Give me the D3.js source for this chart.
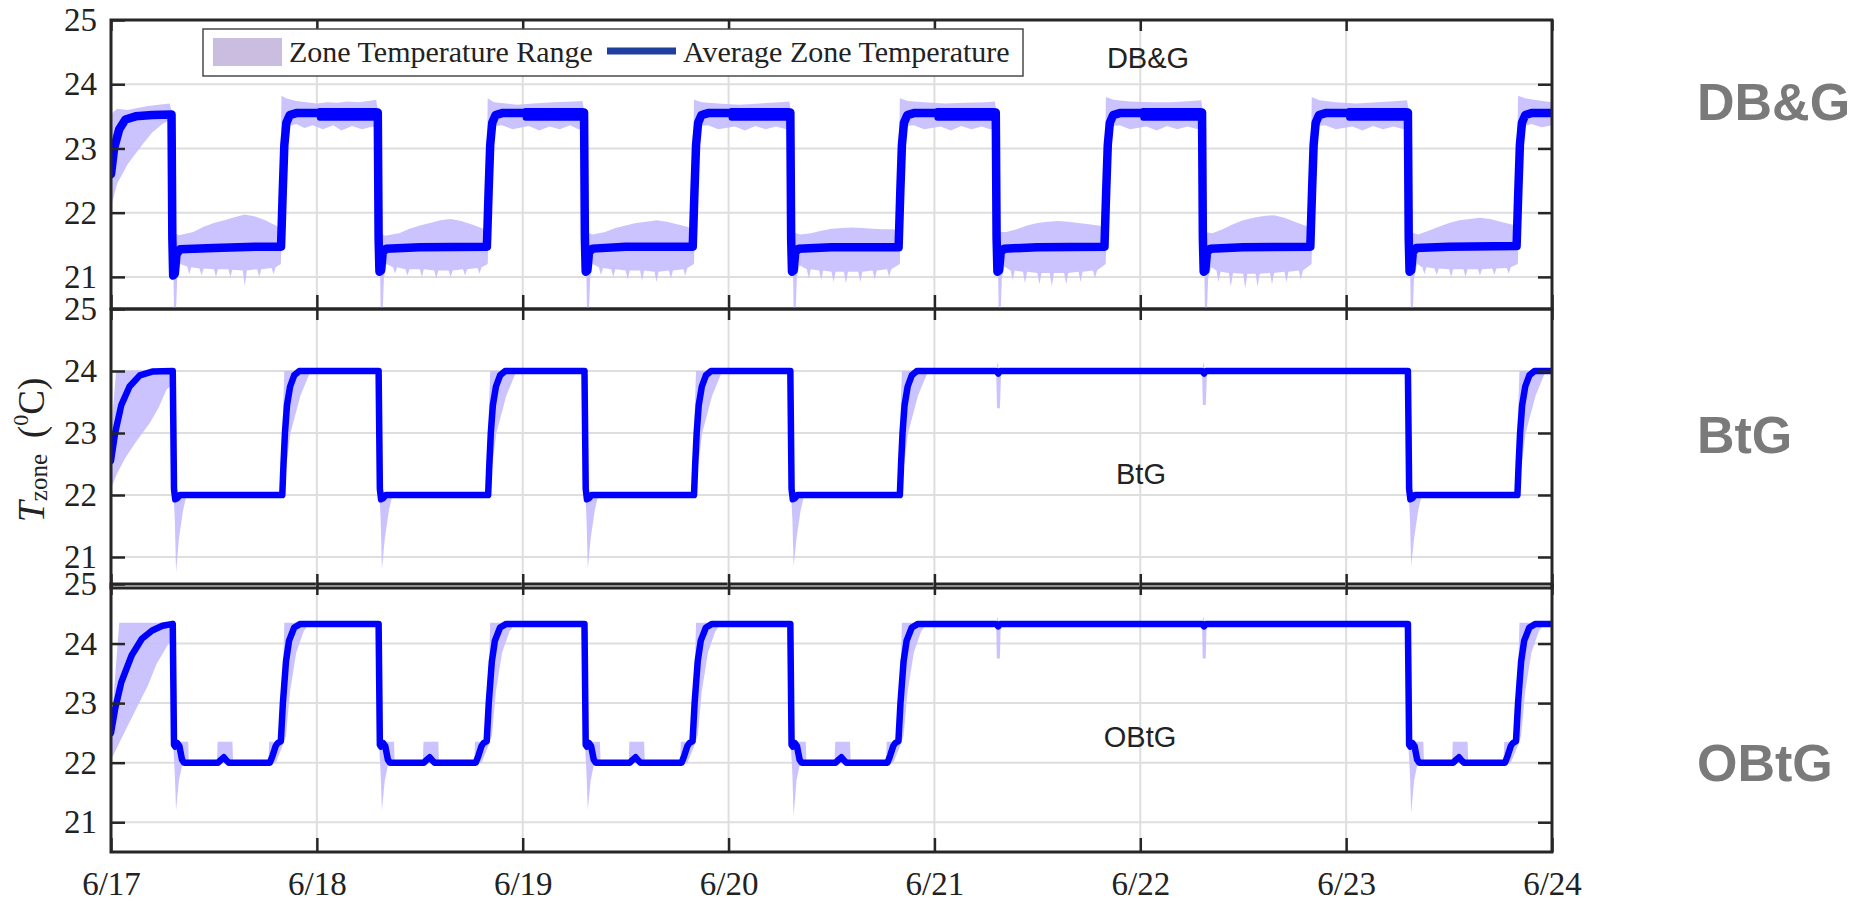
<!DOCTYPE html>
<html>
<head>
<meta charset="utf-8">
<script src="https://cdn.jsdelivr.net/npm/d3@7"></script>
<style>
  body { margin: 0; background: #fff; }
</style>
</head>
<body>
<svg id="chart" width="1865" height="902"></svg>
<script>
// time is in days after 6/17 00:00
var dayTicks = [0, 1, 2, 3, 4, 5, 6, 7];
var dayLabels = ["6/17", "6/18", "6/19", "6/20", "6/21", "6/22", "6/23", "6/24"];
var yTicks = [21, 22, 23, 24, 25];
var yDomain = [20.5, 25];
var panelNames = ["DB&G", "BtG", "OBtG"];
var legendLabels = ["Zone Temperature Range", "Average Zone Temperature"];

// ---- DB&G ----
var dbgAvg = [
  [0,22.6],[0.015,23.0],[0.04,23.3],[0.07,23.45],[0.12,23.5],[0.2,23.52],[0.294,23.53],
  [0.298,21.6],[0.302,21.02],[0.31,21.05],[0.318,21.35],[0.335,21.43],[0.5,21.45],[0.7,21.47],[0.826,21.47],
  [0.834,22.3],[0.842,23.05],[0.852,23.4],[0.868,23.52],[0.9,23.55],[1.0,23.55],
  [1.296,23.56],[1.3,21.6],[1.304,21.08],[1.312,21.1],[1.32,21.38],[1.336,21.44],[1.5,21.46],[1.826,21.47],
  [1.834,22.3],[1.842,23.05],[1.852,23.4],[1.868,23.52],[1.9,23.55],[2.0,23.55],
  [2.298,23.56],[2.302,21.6],[2.306,21.08],[2.314,21.1],[2.322,21.38],[2.338,21.44],[2.5,21.47],[2.826,21.47],
  [2.834,22.3],[2.842,23.05],[2.852,23.4],[2.868,23.52],[2.9,23.55],[3.0,23.55],
  [3.3,23.56],[3.304,21.6],[3.308,21.08],[3.316,21.1],[3.324,21.38],[3.34,21.44],[3.5,21.46],[3.826,21.46],
  [3.834,22.3],[3.842,23.05],[3.852,23.4],[3.868,23.52],[3.9,23.55],[4.0,23.55],
  [4.298,23.56],[4.302,21.6],[4.306,21.08],[4.314,21.1],[4.322,21.38],[4.338,21.44],[4.5,21.46],[4.826,21.47],
  [4.834,22.3],[4.842,23.05],[4.852,23.4],[4.868,23.52],[4.9,23.55],[5.0,23.55],
  [5.3,23.56],[5.304,21.6],[5.308,21.08],[5.316,21.1],[5.324,21.38],[5.34,21.44],[5.5,21.46],[5.826,21.47],
  [5.834,22.3],[5.842,23.05],[5.852,23.4],[5.868,23.52],[5.9,23.55],[6.0,23.55],
  [6.3,23.56],[6.304,21.6],[6.308,21.08],[6.316,21.1],[6.324,21.38],[6.34,21.45],[6.5,21.47],[6.828,21.48],
  [6.836,22.3],[6.844,23.05],[6.854,23.4],[6.87,23.52],[6.9,23.55],[7.0,23.55]
];
// thicker (oscillating) average during the night, [start, end, low, high]
var dbgNight = [
  [1.0,1.298,23.43,23.63],[2.0,2.3,23.43,23.63],[3.0,3.302,23.43,23.63],
  [4.0,4.3,23.43,23.63],[5.0,5.302,23.43,23.63],[6.0,6.302,23.43,23.63]
];
var dbgHi = [
  [0,22.9],[0.006,23.55],[0.03,23.62],[0.08,23.6],[0.13,23.63],[0.18,23.66],[0.23,23.68],[0.285,23.7],[0.293,23.6],
  [0.299,21.7],[0.33,21.65],[0.4,21.7],[0.45,21.78],[0.5,21.84],[0.55,21.88],[0.6,21.93],[0.65,21.97],[0.7,21.94],[0.75,21.88],[0.8,21.8],[0.818,21.76],
  [0.823,22.6],[0.828,23.82],[0.85,23.78],[0.9,23.74],[0.95,23.72],
  [1.0,23.7],[1.05,23.72],[1.1,23.71],[1.15,23.73],[1.2,23.72],[1.25,23.74],[1.288,23.76],[1.296,23.6],
  [1.302,21.7],[1.33,21.64],[1.4,21.68],[1.45,21.75],[1.5,21.8],[1.55,21.84],[1.6,21.88],[1.65,21.9],[1.7,21.87],[1.75,21.82],[1.8,21.76],[1.82,21.72],
  [1.825,22.6],[1.83,23.78],[1.86,23.72],[1.92,23.7],[1.97,23.68],
  [2.05,23.7],[2.15,23.72],[2.25,23.73],[2.29,23.74],[2.298,23.6],
  [2.304,21.7],[2.34,21.66],[2.4,21.7],[2.45,21.76],[2.5,21.8],[2.55,21.84],[2.6,21.86],[2.65,21.88],[2.7,21.86],[2.75,21.82],[2.8,21.78],[2.822,21.74],
  [2.827,22.6],[2.832,23.76],[2.87,23.72],[2.95,23.7],
  [3.05,23.68],[3.15,23.7],[3.25,23.72],[3.295,23.73],[3.302,23.6],
  [3.308,21.7],[3.35,21.66],[3.4,21.68],[3.45,21.72],[3.5,21.75],[3.55,21.76],[3.6,21.77],[3.65,21.76],[3.7,21.75],[3.75,21.74],[3.8,21.74],[3.822,21.72],
  [3.827,22.6],[3.832,23.78],[3.87,23.74],[3.95,23.72],
  [4.05,23.7],[4.15,23.71],[4.25,23.72],[4.293,23.73],[4.3,23.6],
  [4.306,21.7],[4.35,21.7],[4.4,21.74],[4.45,21.8],[4.5,21.84],[4.55,21.86],[4.6,21.87],[4.65,21.86],[4.7,21.84],[4.75,21.82],[4.8,21.8],[4.823,21.76],
  [4.828,22.6],[4.833,23.8],[4.87,23.76],[4.95,23.73],
  [5.05,23.72],[5.15,23.72],[5.25,23.74],[5.296,23.75],[5.303,23.6],
  [5.309,21.7],[5.35,21.68],[5.4,21.74],[5.45,21.82],[5.5,21.88],[5.55,21.92],[5.6,21.95],[5.65,21.96],[5.7,21.92],[5.75,21.86],[5.8,21.8],[5.823,21.77],
  [5.828,22.6],[5.833,23.8],[5.87,23.75],[5.95,23.72],
  [6.05,23.7],[6.15,23.72],[6.25,23.74],[6.296,23.75],[6.303,23.6],
  [6.309,21.7],[6.35,21.66],[6.4,21.72],[6.45,21.78],[6.5,21.84],[6.55,21.88],[6.6,21.9],[6.65,21.92],[6.7,21.9],[6.75,21.86],[6.8,21.82],[6.825,21.8],
  [6.83,22.6],[6.835,23.82],[6.87,23.78],[6.93,23.75],[7.0,23.72]
];
var dbgLo = [
  [0,22.1],[0.03,22.45],[0.08,22.75],[0.15,23.05],[0.2,23.25],[0.25,23.38],[0.29,23.45],[0.296,23.2],
  [0.302,21.3],[0.306,20.5],[0.316,20.5],[0.322,21.0],[0.335,21.2],[0.37,21.16],[0.38,21.04],[0.39,21.15],[0.43,21.13],[0.44,21.02],[0.45,21.13],
  [0.5,21.12],[0.51,21.0],[0.52,21.12],[0.57,21.12],[0.58,21.0],[0.59,21.11],[0.64,21.1],[0.65,20.86],[0.66,21.1],[0.71,21.12],[0.72,21.0],[0.73,21.12],
  [0.78,21.14],[0.79,21.04],[0.8,21.15],[0.825,21.2],
  [0.838,22.3],[0.848,23.15],[0.862,23.35],[0.9,23.38],[0.94,23.32],[0.98,23.36],
  [1.03,23.3],[1.08,23.36],[1.12,23.28],[1.17,23.35],[1.22,23.3],[1.27,23.34],[1.296,23.3],[1.302,23.1],
  [1.306,21.3],[1.31,20.5],[1.32,20.5],[1.326,21.0],[1.338,21.2],[1.37,21.15],[1.38,21.05],[1.39,21.15],[1.43,21.12],[1.44,21.02],[1.45,21.12],
  [1.5,21.12],[1.51,21.0],[1.52,21.12],[1.57,21.1],[1.58,20.98],[1.59,21.1],[1.64,21.1],[1.65,21.0],[1.66,21.1],[1.71,21.12],[1.72,21.02],[1.73,21.12],
  [1.78,21.14],[1.79,21.05],[1.8,21.15],[1.83,21.2],
  [1.838,22.3],[1.848,23.15],[1.862,23.35],[1.9,23.36],[1.95,23.3],
  [2.03,23.35],[2.08,23.28],[2.13,23.34],[2.18,23.3],[2.23,23.36],[2.27,23.3],[2.298,23.3],[2.304,23.1],
  [2.308,21.3],[2.312,20.5],[2.322,20.5],[2.328,21.0],[2.34,21.2],[2.37,21.15],[2.38,21.03],[2.39,21.14],[2.43,21.12],[2.44,21.0],[2.45,21.12],
  [2.5,21.1],[2.51,20.96],[2.52,21.1],[2.57,21.1],[2.58,20.94],[2.59,21.1],[2.64,21.08],[2.65,20.92],[2.66,21.08],[2.71,21.1],[2.72,20.98],[2.73,21.1],
  [2.78,21.12],[2.79,21.02],[2.8,21.14],[2.832,21.2],
  [2.84,22.3],[2.85,23.15],[2.864,23.35],[2.9,23.36],[2.95,23.3],
  [3.03,23.34],[3.08,23.28],[3.13,23.35],[3.18,23.3],[3.23,23.34],[3.28,23.3],[3.302,23.3],[3.308,23.1],
  [3.312,21.3],[3.316,20.5],[3.326,20.5],[3.332,21.0],[3.345,21.18],[3.38,21.12],[3.39,20.98],[3.4,21.12],[3.44,21.1],[3.45,20.95],[3.46,21.1],
  [3.5,21.08],[3.51,20.92],[3.52,21.08],[3.56,21.08],[3.57,20.9],[3.58,21.08],[3.63,21.08],[3.64,20.92],[3.65,21.08],[3.7,21.1],[3.71,20.96],[3.72,21.1],
  [3.77,21.12],[3.78,21.0],[3.79,21.12],[3.832,21.2],
  [3.84,22.3],[3.85,23.15],[3.864,23.35],[3.9,23.36],[3.95,23.3],
  [4.03,23.34],[4.08,23.28],[4.13,23.35],[4.18,23.3],[4.23,23.34],[4.27,23.3],[4.298,23.3],[4.304,23.1],
  [4.308,21.3],[4.312,20.5],[4.322,20.5],[4.328,21.0],[4.34,21.16],[4.37,21.1],[4.38,20.95],[4.39,21.1],[4.43,21.08],[4.44,20.9],[4.45,21.08],
  [4.5,21.06],[4.51,20.88],[4.52,21.06],[4.56,21.06],[4.57,20.85],[4.58,21.06],[4.63,21.06],[4.64,20.88],[4.65,21.06],[4.7,21.08],[4.71,20.92],[4.72,21.08],
  [4.77,21.1],[4.78,20.98],[4.79,21.1],[4.832,21.2],
  [4.84,22.3],[4.85,23.15],[4.864,23.35],[4.9,23.36],[4.95,23.3],
  [5.03,23.34],[5.08,23.28],[5.13,23.35],[5.18,23.3],[5.23,23.34],[5.28,23.3],[5.3,23.3],[5.306,23.1],
  [5.31,21.3],[5.314,20.5],[5.324,20.5],[5.33,21.0],[5.345,21.15],[5.37,21.1],[5.38,20.92],[5.39,21.08],[5.43,21.06],[5.44,20.85],[5.45,21.06],
  [5.5,21.05],[5.51,20.82],[5.52,21.05],[5.56,21.05],[5.57,20.85],[5.58,21.05],[5.63,21.06],[5.64,20.88],[5.65,21.06],[5.7,21.08],[5.71,20.92],[5.72,21.08],
  [5.77,21.1],[5.78,20.96],[5.79,21.1],[5.832,21.2],
  [5.84,22.3],[5.85,23.15],[5.864,23.35],[5.9,23.36],[5.95,23.3],
  [6.03,23.34],[6.08,23.28],[6.13,23.35],[6.18,23.3],[6.23,23.34],[6.28,23.3],[6.3,23.3],[6.306,23.1],
  [6.31,21.3],[6.314,20.5],[6.324,20.5],[6.33,21.0],[6.345,21.2],[6.37,21.15],[6.38,21.04],[6.39,21.15],[6.43,21.13],[6.44,21.03],[6.45,21.13],
  [6.5,21.12],[6.51,21.0],[6.52,21.12],[6.57,21.12],[6.58,21.0],[6.59,21.12],[6.64,21.12],[6.65,21.02],[6.66,21.12],[6.71,21.13],[6.72,21.03],[6.73,21.13],
  [6.78,21.14],[6.79,21.05],[6.8,21.15],[6.834,21.2],
  [6.842,22.3],[6.852,23.15],[6.866,23.35],[6.9,23.38],[6.95,23.33],[7.0,23.36]
];

// ---- BtG ----
var btgAvg = [
  [0,22.55],[0.02,23.0],[0.05,23.45],[0.09,23.75],[0.14,23.93],[0.2,23.99],[0.3,24.0],
  [0.306,22.1],[0.312,21.93],[0.322,21.95],[0.335,22.0],[0.832,22.0],[0.838,22.5],[0.845,23.0],[0.855,23.45],[0.87,23.75],[0.89,23.93],[0.915,24.0],
  [1.3,24.0],[1.306,22.1],[1.312,21.93],[1.322,21.95],[1.335,22.0],[1.832,22.0],[1.838,22.5],[1.845,23.0],[1.855,23.45],[1.87,23.75],[1.89,23.93],[1.915,24.0],
  [2.3,24.0],[2.306,22.1],[2.312,21.93],[2.322,21.95],[2.335,22.0],[2.832,22.0],[2.838,22.5],[2.845,23.0],[2.855,23.45],[2.87,23.75],[2.89,23.93],[2.915,24.0],
  [3.3,24.0],[3.306,22.1],[3.312,21.93],[3.322,21.95],[3.335,22.0],[3.832,22.0],[3.838,22.5],[3.845,23.0],[3.855,23.45],[3.87,23.75],[3.89,23.93],[3.915,24.0],
  [4.3,24.0],[4.31,23.96],[4.32,24.0],
  [5.3,24.0],[5.31,23.96],[5.32,24.0],
  [6.3,24.0],[6.306,22.1],[6.312,21.93],[6.322,21.95],[6.335,22.0],[6.832,22.0],[6.838,22.5],[6.845,23.0],[6.855,23.45],[6.87,23.75],[6.89,23.93],[6.915,24.0],
  [7.0,24.0]
];
var btgHi = [
  [0,22.6],[0.01,23.4],[0.025,24.0],[0.3,24.02],[0.305,22.05],[0.828,22.05],[0.834,23.2],[0.842,24.0],
  [1.3,24.02],[1.305,22.05],[1.828,22.05],[1.834,23.2],[1.842,24.0],
  [2.3,24.02],[2.305,22.05],[2.828,22.05],[2.834,23.2],[2.842,24.0],
  [3.3,24.02],[3.305,22.05],[3.828,22.05],[3.834,23.2],[3.842,24.0],
  [4.302,24.0],[4.307,24.15],[4.314,24.0],
  [5.302,24.0],[5.307,24.15],[5.314,24.0],
  [6.3,24.02],[6.305,22.05],[6.828,22.05],[6.834,23.2],[6.842,24.0],[7.0,24.0]
];
var btgLo = [
  [0,22.1],[0.03,22.35],[0.07,22.6],[0.12,22.85],[0.19,23.17],[0.23,23.4],[0.27,23.7],[0.3,23.78],
  [0.304,22.0],[0.31,21.6],[0.316,20.75],[0.33,21.3],[0.35,21.75],[0.365,21.97],[0.83,21.98],[0.845,22.3],[0.872,23.0],[0.92,23.6],[0.967,23.98],
  [1.3,23.98],[1.304,22.0],[1.31,21.6],[1.316,20.8],[1.33,21.3],[1.35,21.75],[1.365,21.97],[1.83,21.98],[1.845,22.3],[1.872,23.0],[1.92,23.6],[1.967,23.98],
  [2.3,23.98],[2.304,22.0],[2.31,21.6],[2.316,20.8],[2.33,21.3],[2.35,21.75],[2.365,21.97],[2.83,21.98],[2.845,22.3],[2.872,23.0],[2.92,23.6],[2.967,23.98],
  [3.3,23.98],[3.304,22.0],[3.31,21.6],[3.316,20.85],[3.33,21.3],[3.35,21.75],[3.365,21.97],[3.83,21.98],[3.845,22.3],[3.872,23.0],[3.92,23.6],[3.967,23.98],
  [4.3,23.98],[4.304,23.4],[4.318,23.4],[4.324,23.98],
  [5.3,23.98],[5.304,23.45],[5.318,23.45],[5.324,23.98],
  [6.3,23.98],[6.304,22.0],[6.31,21.6],[6.316,20.85],[6.33,21.3],[6.35,21.75],[6.365,21.97],[6.83,21.98],[6.845,22.3],[6.872,23.0],[6.92,23.6],[6.967,23.98],
  [7.0,23.98]
];

// ---- OBtG ----
var obtgAvg = [
  [0,22.5],[0.02,22.9],[0.05,23.35],[0.1,23.8],[0.15,24.08],[0.2,24.22],[0.25,24.3],[0.3,24.33],
  [0.306,22.3],[0.312,22.27],[0.322,22.33],[0.332,22.28],[0.345,22.05],[0.355,22.0],[0.52,22.0],[0.535,22.05],[0.548,22.09],[0.56,22.04],[0.572,22.0],
  [0.772,22.0],[0.785,22.12],[0.8,22.28],[0.81,22.33],[0.825,22.36],[0.835,23.0],[0.85,23.7],[0.865,24.05],[0.89,24.27],[0.92,24.33],
  [1.3,24.33],[1.306,22.3],[1.312,22.27],[1.322,22.33],[1.332,22.28],[1.345,22.05],[1.355,22.0],[1.52,22.0],[1.535,22.05],[1.548,22.09],[1.56,22.04],[1.572,22.0],
  [1.772,22.0],[1.785,22.12],[1.8,22.28],[1.81,22.33],[1.825,22.36],[1.835,23.0],[1.85,23.7],[1.865,24.05],[1.89,24.27],[1.92,24.33],
  [2.3,24.33],[2.306,22.3],[2.312,22.27],[2.322,22.33],[2.332,22.28],[2.345,22.05],[2.355,22.0],[2.52,22.0],[2.535,22.05],[2.548,22.09],[2.56,22.04],[2.572,22.0],
  [2.772,22.0],[2.785,22.12],[2.8,22.28],[2.81,22.33],[2.825,22.36],[2.835,23.0],[2.85,23.7],[2.865,24.05],[2.89,24.27],[2.92,24.33],
  [3.3,24.33],[3.306,22.3],[3.312,22.27],[3.322,22.33],[3.332,22.28],[3.345,22.05],[3.355,22.0],[3.52,22.0],[3.535,22.05],[3.548,22.09],[3.56,22.04],[3.572,22.0],
  [3.772,22.0],[3.785,22.12],[3.8,22.28],[3.81,22.33],[3.825,22.36],[3.835,23.0],[3.85,23.7],[3.865,24.05],[3.89,24.27],[3.92,24.33],
  [4.3,24.33],[4.31,24.29],[4.32,24.33],
  [5.3,24.33],[5.31,24.29],[5.32,24.33],
  [6.3,24.33],[6.306,22.3],[6.312,22.27],[6.322,22.33],[6.332,22.28],[6.345,22.05],[6.355,22.0],[6.52,22.0],[6.535,22.05],[6.548,22.09],[6.56,22.04],[6.572,22.0],
  [6.772,22.0],[6.785,22.12],[6.8,22.28],[6.81,22.33],[6.825,22.36],[6.835,23.0],[6.85,23.7],[6.865,24.05],[6.89,24.27],[6.92,24.33],
  [7.0,24.33]
];
var obtgHi = [
  [0,22.55],[0.04,24.35],[0.3,24.35],
  [0.304,22.35],[0.375,22.35],[0.378,22.02],[0.515,22.02],[0.518,22.35],[0.59,22.35],[0.593,22.02],[0.765,22.02],[0.768,22.35],[0.83,22.35],[0.836,23.6],[0.842,24.35],
  [1.3,24.35],[1.304,22.35],[1.375,22.35],[1.378,22.02],[1.515,22.02],[1.518,22.35],[1.59,22.35],[1.593,22.02],[1.765,22.02],[1.768,22.35],[1.83,22.35],[1.836,23.6],[1.842,24.35],
  [2.3,24.35],[2.304,22.35],[2.375,22.35],[2.378,22.02],[2.515,22.02],[2.518,22.35],[2.59,22.35],[2.593,22.02],[2.765,22.02],[2.768,22.35],[2.83,22.35],[2.836,23.6],[2.842,24.35],
  [3.3,24.35],[3.304,22.35],[3.375,22.35],[3.378,22.02],[3.515,22.02],[3.518,22.35],[3.59,22.35],[3.593,22.02],[3.765,22.02],[3.768,22.35],[3.83,22.35],[3.836,23.6],[3.842,24.35],
  [4.302,24.35],[4.307,24.45],[4.314,24.35],
  [5.302,24.35],[5.307,24.45],[5.314,24.35],
  [6.3,24.35],[6.304,22.35],[6.375,22.35],[6.378,22.02],[6.515,22.02],[6.518,22.35],[6.59,22.35],[6.593,22.02],[6.765,22.02],[6.768,22.35],[6.83,22.35],[6.836,23.6],[6.842,24.35],
  [7.0,24.35]
];
var obtgLo = [
  [0,22.05],[0.05,22.4],[0.1,22.75],[0.18,23.3],[0.22,23.65],[0.28,24.0],[0.3,24.05],
  [0.304,22.2],[0.31,21.8],[0.316,21.2],[0.33,21.7],[0.345,21.95],[0.36,22.0],[0.8,22.0],[0.83,22.25],[0.85,22.45],[0.87,23.2],[0.9,23.85],[0.935,24.2],[0.96,24.33],
  [1.3,24.33],[1.304,22.2],[1.31,21.8],[1.316,21.2],[1.33,21.7],[1.345,21.95],[1.36,22.0],[1.8,22.0],[1.83,22.25],[1.85,22.45],[1.87,23.2],[1.9,23.85],[1.935,24.2],[1.96,24.33],
  [2.3,24.33],[2.304,22.2],[2.31,21.8],[2.316,21.2],[2.33,21.7],[2.345,21.95],[2.36,22.0],[2.8,22.0],[2.83,22.25],[2.85,22.45],[2.87,23.2],[2.9,23.85],[2.935,24.2],[2.96,24.33],
  [3.3,24.33],[3.304,22.2],[3.31,21.8],[3.316,21.1],[3.33,21.7],[3.345,21.95],[3.36,22.0],[3.8,22.0],[3.83,22.25],[3.85,22.45],[3.87,23.2],[3.9,23.85],[3.935,24.2],[3.96,24.33],
  [4.3,24.33],[4.303,23.75],[4.318,23.75],[4.322,24.33],
  [5.3,24.33],[5.303,23.75],[5.318,23.75],[5.322,24.33],
  [6.3,24.33],[6.304,22.2],[6.31,21.8],[6.316,21.15],[6.33,21.7],[6.345,21.95],[6.36,22.0],[6.8,22.0],[6.83,22.25],[6.85,22.45],[6.87,23.2],[6.9,23.85],[6.935,24.2],[6.96,24.33],
  [7.0,24.33]
];

var svg = d3.select("#chart");
var x = d3.scaleLinear().domain([dayTicks[0], dayTicks[dayTicks.length - 1]]).range([111, 1552]);

var panels = [
  {name: panelNames[0], avg: dbgAvg, hi: dbgHi, lo: dbgLo, night: dbgNight, top: 20, bottom: 309, lw: 8.5, labelX: 1148, labelY: 68, sideY: 120},
  {name: panelNames[1], avg: btgAvg, hi: btgHi, lo: btgLo, night: [], top: 309, bottom: 588, lw: 6.5, labelX: 1141, labelY: 484, sideY: 453},
  {name: panelNames[2], avg: obtgAvg, hi: obtgHi, lo: obtgLo, night: [], top: 584, bottom: 852, lw: 6.5, labelX: 1140, labelY: 747, sideY: 781}
];

var serif = "Liberation Serif";
var sans = "Liberation Sans";
var axisColor = "#262626";

// draw bottom panel first so upper panels sit on top of it
panels.slice().reverse().forEach(function(p, k) {
  var i = panels.length - 1 - k;
  var y = d3.scaleLinear().domain(yDomain).range([p.bottom, p.top]);
  var g = svg.append("g");

  g.append("clipPath").attr("id", "clip" + i)
    .append("rect").attr("x", x.range()[0]).attr("y", p.top)
    .attr("width", x.range()[1] - x.range()[0]).attr("height", p.bottom - p.top);

  // grid
  g.append("g").selectAll("line").data(yTicks.slice(0, 4)).join("line")
    .attr("x1", x.range()[0]).attr("x2", x.range()[1])
    .attr("y1", function(d) { return y(d); }).attr("y2", function(d) { return y(d); })
    .attr("stroke", "#dedede").attr("stroke-width", 2);
  g.append("g").selectAll("line").data(dayTicks.slice(1, 7)).join("line")
    .attr("x1", function(d) { return x(d); }).attr("x2", function(d) { return x(d); })
    .attr("y1", p.top).attr("y2", p.bottom)
    .attr("stroke", "#dedede").attr("stroke-width", 2);

  var data = g.append("g").attr("clip-path", "url(#clip" + i + ")");

  // range band: upper edge forward, lower edge back
  var edge = d3.line().x(function(d) { return x(d[0]); }).y(function(d) { return y(d[1]); });
  var ring = p.hi.concat(p.lo.slice().reverse());
  data.append("path").attr("d", edge(ring) + "Z")
    .attr("fill", "#c5bcfd").attr("fill-opacity", 0.9).attr("stroke", "none");

  data.append("path").datum(p.avg).attr("d", edge)
    .attr("fill", "none").attr("stroke", "#0000ff")
    .attr("stroke-width", p.lw).attr("stroke-linejoin", "round").attr("stroke-linecap", "round");

  data.append("g").selectAll("rect").data(p.night).join("rect")
    .attr("x", function(d) { return x(d[0]); })
    .attr("width", function(d) { return x(d[1]) - x(d[0]); })
    .attr("y", function(d) { return y(d[3]); })
    .attr("height", function(d) { return y(d[2]) - y(d[3]); })
    .attr("rx", 3).attr("fill", "#0000ff");

  // axes with inward ticks
  var left = g.append("g").attr("transform", "translate(" + x.range()[0] + ",0)")
    .call(d3.axisLeft(y).tickValues(yTicks).tickSizeInner(-14).tickSizeOuter(0).tickPadding(14)
      .tickFormat(d3.format("d")));
  var right = g.append("g").attr("transform", "translate(" + x.range()[1] + ",0)")
    .call(d3.axisRight(y).tickValues(yTicks.slice(0, 4)).tickSizeInner(-14).tickSizeOuter(0).tickFormat(""));
  var topAx = g.append("g").attr("transform", "translate(0," + p.top + ")")
    .call(d3.axisTop(x).tickValues(dayTicks).tickSizeInner(-11).tickSizeOuter(0).tickFormat(""));
  var bottomAx = g.append("g").attr("transform", "translate(0," + p.bottom + ")")
    .call(d3.axisBottom(x).tickValues(dayTicks).tickSizeInner(-14).tickSizeOuter(0).tickPadding(20)
      .tickFormat(function(d, j) { return i === 2 ? dayLabels[j] : ""; }));

  [left, right, topAx, bottomAx].forEach(function(a) {
    a.attr("font-family", serif).attr("font-size", 33);
    a.select(".domain").remove();
    a.selectAll(".tick line").attr("stroke", axisColor).attr("stroke-width", 2.5);
    a.selectAll("text").style("font-family", serif).style("font-size", "33px").attr("fill", "#222");
  });

  g.append("rect").attr("x", x.range()[0]).attr("y", p.top)
    .attr("width", x.range()[1] - x.range()[0]).attr("height", p.bottom - p.top)
    .attr("fill", "none").attr("stroke", axisColor).attr("stroke-width", 3);

  // in-panel label and big side label
  g.append("text").attr("x", p.labelX).attr("y", p.labelY).attr("text-anchor", "middle")
    .style("font-family", sans).style("font-size", "29px").attr("fill", "#222").text(p.name);
  g.append("text").attr("x", 1697).attr("y", p.sideY)
    .style("font-family", sans).style("font-weight", "bold").style("font-size", "52px")
    .attr("fill", "#7a7a7a").text(p.name);
});

// legend
var lg = svg.append("g");
lg.append("rect").attr("x", 203).attr("y", 29).attr("width", 820).attr("height", 47)
  .attr("fill", "#fff").attr("stroke", "#4a4a4a").attr("stroke-width", 1.5);
lg.append("rect").attr("x", 213).attr("y", 38).attr("width", 69).attr("height", 28).attr("fill", "#cbbde0");
lg.append("text").attr("x", 289).attr("y", 62).style("font-family", serif).style("font-size", "30px")
  .attr("fill", "#222").text(legendLabels[0]);
lg.append("line").attr("x1", 607).attr("x2", 676).attr("y1", 51).attr("y2", 51)
  .attr("stroke", "#1f3f9f").attr("stroke-width", 7);
lg.append("text").attr("x", 683).attr("y", 62).style("font-family", serif).style("font-size", "30px")
  .attr("fill", "#222").text(legendLabels[1]);

// y axis title: T_zone (0C)
var yt = svg.append("text").attr("transform", "translate(44,450) rotate(-90)")
  .attr("text-anchor", "middle").style("font-family", serif).attr("fill", "#222");
yt.append("tspan").style("font-style", "italic").style("font-size", "38px").text("T");
yt.append("tspan").style("font-size", "25px").attr("dy", 3).text("zone");
yt.append("tspan").style("font-size", "37px").attr("dy", -3).attr("dx", 16).text("(");
yt.append("tspan").style("font-size", "22px").attr("dy", -16).text("0");
yt.append("tspan").style("font-size", "37px").attr("dy", 16).text("C)");
</script>
</body>
</html>
